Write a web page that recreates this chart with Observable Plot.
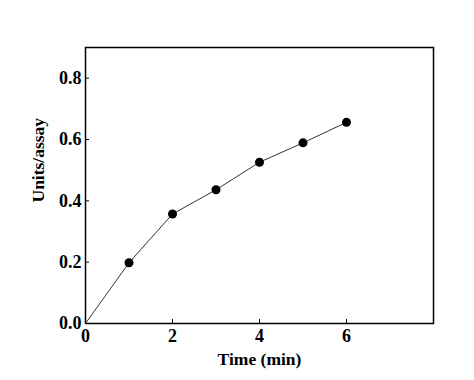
<!DOCTYPE html>
<html><head><meta charset="utf-8">
<script src="https://cdn.jsdelivr.net/npm/d3@7"></script>
<script src="https://cdn.jsdelivr.net/npm/@observablehq/plot@0.6"></script>
<style>body{margin:0;background:#fff}</style>
</head><body><div id="chart"></div>
<script>
const time = [0, 1, 2, 3, 4, 5, 6];
const units = [0, 0.198, 0.357, 0.436, 0.526, 0.589, 0.656];
const xTicks = [0, 2, 4, 6];
const yTicks = [0, 0.2, 0.4, 0.6, 0.8];
const data = time.map((t, i) => ({t, u: units[i]}));
const pts = data.slice(1);

const chart = Plot.plot({
  width: 474, height: 380,
  marginLeft: 85, marginRight: 41, marginTop: 47, marginBottom: 57,
  style: {fontFamily: "'Liberation Serif', 'Times New Roman', serif", fontWeight: "bold", fontSize: "18px", background: "#fff", color: "#000"},
  x: {domain: [0, 8]},
  y: {domain: [0, 0.9]},
  marks: [
    Plot.frame({stroke: "#000", strokeWidth: 1.5}),
    Plot.axisX(xTicks, {tickSize: -4, tickPadding: 10, label: null, fontSize: 18}),
    Plot.axisY(yTicks, {tickSize: -4, tickPadding: 8, tickFormat: d3.format(".1f"), label: null, fontSize: 18}),
    Plot.text(["Time (min)"], {frameAnchor: "bottom", dy: 41, fontSize: 17.5, fontWeight: "bold"}),
    Plot.text(["Units/assay"], {frameAnchor: "left", dx: -47, dy: 17, rotate: -90, fontSize: 17.5, fontWeight: "bold"}),
    Plot.line(data, {x: "t", y: "u", stroke: "#333", strokeWidth: 1}),
    Plot.dot(pts, {x: "t", y: "u", r: 4.5, fill: "#000"})
  ]
});
document.getElementById("chart").append(chart);
</script>
</body></html>
